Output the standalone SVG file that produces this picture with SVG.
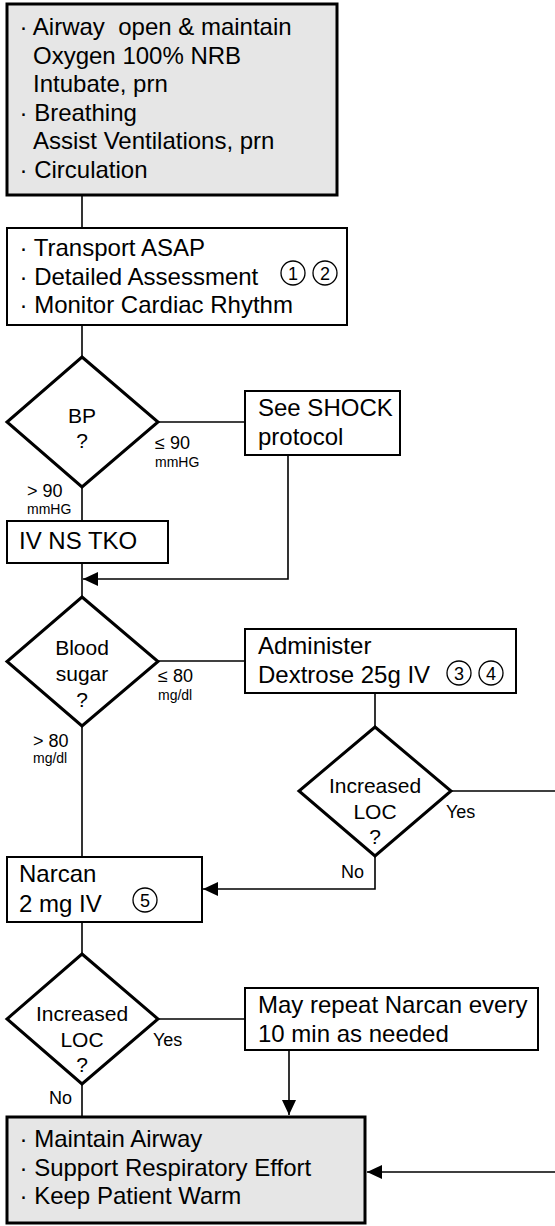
<svg xmlns="http://www.w3.org/2000/svg" width="555" height="1226" viewBox="0 0 555 1226">
<defs>
<style>
.t{font-family:"Liberation Sans",Arial,sans-serif;font-size:24px;fill:#000;white-space:pre}
.d{font-family:"Liberation Sans",Arial,sans-serif;font-size:21px;fill:#000;text-anchor:middle}
.l{font-family:"Liberation Sans",Arial,sans-serif;font-size:18px;fill:#000}
.s{font-family:"Liberation Sans",Arial,sans-serif;font-size:14px;fill:#000}
.n{font-family:"Liberation Sans",Arial,sans-serif;font-size:18px;fill:#000;text-anchor:middle}
.box{fill:#fff;stroke:#000;stroke-width:2}
.key{fill:#e6e6e6;stroke:#000;stroke-width:3}
.dia{fill:#fff;stroke:#000;stroke-width:3;stroke-linejoin:miter}
.num{fill:none;stroke:#000;stroke-width:1.3}
.c{fill:none;stroke:#000;stroke-width:1.6}
</style>
<marker id="arr" viewBox="0 0 15 14" refX="15" refY="7" markerWidth="15" markerHeight="14" markerUnits="userSpaceOnUse" orient="auto">
<path d="M0,0 L15,7 L0,14 Z" fill="#000"/>
</marker>
</defs>

<g id="connectors">
<path class="c" d="M82,195 V228"/>
<path class="c" d="M82,325 V357"/>
<path class="c" d="M82,487 V521"/>
<path class="c" d="M82,563 V597"/>
<path class="c" d="M158,422 H245"/>
<path class="c" d="M288,455 V579 H83" marker-end="url(#arr)"/>
<path class="c" d="M158,661 H245"/>
<path class="c" d="M375,693 V727"/>
<path class="c" d="M451,791 H562 V1172 H367" marker-end="url(#arr)"/>
<path class="c" d="M375,856 V889 H203" marker-end="url(#arr)"/>
<path class="c" d="M82,726 V857"/>
<path class="c" d="M82,922 V954"/>
<path class="c" d="M158,1019 H245"/>
<path class="c" d="M82,1084 V1117"/>
<path class="c" d="M289,1050 V1115" marker-end="url(#arr)"/>
<text class="l" x="155" y="449">≤ 90</text>
<text class="s" x="155" y="467">mmHG</text>
<text class="l" x="27" y="497">&gt; 90</text>
<text class="s" x="27" y="514">mmHG</text>
<text class="l" x="158" y="682">≤ 80</text>
<text class="s" x="158" y="700">mg/dl</text>
<text class="l" x="33" y="747">&gt; 80</text>
<text class="s" x="33" y="763">mg/dl</text>
<text class="l" x="446" y="818">Yes</text>
<text class="l" x="341" y="878">No</text>
<text class="l" x="153" y="1046">Yes</text>
<text class="l" x="49" y="1104">No</text>
</g>

<g id="abc">
<rect class="key" x="7" y="4" width="330" height="191"/>
<text class="t" x="19.5" y="35">· Airway  open &amp; maintain</text>
<text class="t" x="33" y="63.6">Oxygen 100% NRB</text>
<text class="t" x="33" y="92.2">Intubate, prn</text>
<text class="t" x="19.5" y="120.8">· Breathing</text>
<text class="t" x="33" y="149.4">Assist Ventilations, prn</text>
<text class="t" x="19.5" y="178">· Circulation</text>
</g>

<g id="transport">
<rect class="box" x="7" y="228" width="340" height="97"/>
<text class="t" x="19.5" y="256">· Transport ASAP</text>
<text class="t" x="19.5" y="284.5">· Detailed Assessment</text>
<text class="t" x="19.5" y="313">· Monitor Cardiac Rhythm</text>
<circle class="num" cx="293" cy="273" r="12"/>
<text class="n" x="293" y="279.5">1</text>
<circle class="num" cx="325" cy="273" r="12"/>
<text class="n" x="325" y="279.5">2</text>
</g>

<g id="bp">
<polygon class="dia" points="82,357 158,422 82,487 7,422"/>
<text class="d" x="82" y="423">BP</text>
<text class="d" x="82" y="448">?</text>
</g>

<g id="shock">
<rect class="box" x="245" y="391" width="155" height="64"/>
<text class="t" x="258" y="416">See SHOCK</text>
<text class="t" x="258" y="445">protocol</text>
</g>

<g id="ivns">
<rect class="box" x="7" y="521" width="161" height="42"/>
<text class="t" x="19" y="549">IV NS TKO</text>
</g>

<g id="bloodsugar">
<polygon class="dia" points="82,597 158,661.5 82,726 7,661.5"/>
<text class="d" x="82" y="655">Blood</text>
<text class="d" x="82" y="681">sugar</text>
<text class="d" x="82" y="707">?</text>
</g>

<g id="dextrose">
<rect class="box" x="245" y="629" width="271" height="64"/>
<text class="t" x="258" y="654">Administer</text>
<text class="t" x="258" y="683">Dextrose 25g IV</text>
<circle class="num" cx="459" cy="673" r="12"/>
<text class="n" x="459" y="679.5">3</text>
<circle class="num" cx="491" cy="673" r="12"/>
<text class="n" x="491" y="679.5">4</text>
</g>

<g id="loc1">
<polygon class="dia" points="375,727 451,791 375,856 299,791"/>
<text class="d" x="375" y="793">Increased</text>
<text class="d" x="375" y="818.5">LOC</text>
<text class="d" x="375" y="844">?</text>
</g>

<g id="narcan">
<rect class="box" x="7" y="857" width="195" height="65"/>
<text class="t" x="19" y="882">Narcan</text>
<text class="t" x="19" y="912">2 mg IV</text>
<circle class="num" cx="145" cy="900" r="12"/>
<text class="n" x="145" y="906.5">5</text>
</g>

<g id="loc2">
<polygon class="dia" points="82,954 158,1019 82,1084 7,1019"/>
<text class="d" x="82" y="1021">Increased</text>
<text class="d" x="82" y="1047">LOC</text>
<text class="d" x="82" y="1072">?</text>
</g>

<g id="repeat">
<rect class="box" x="245" y="988" width="293" height="62"/>
<text class="t" x="258" y="1013">May repeat Narcan every</text>
<text class="t" x="258" y="1042">10 min as needed</text>
</g>

<g id="support">
<rect class="key" x="7" y="1117" width="358" height="106"/>
<text class="t" x="19.5" y="1147">· Maintain Airway</text>
<text class="t" x="19.5" y="1175.5">· Support Respiratory Effort</text>
<text class="t" x="19.5" y="1204">· Keep Patient Warm</text>
</g>
</svg>
